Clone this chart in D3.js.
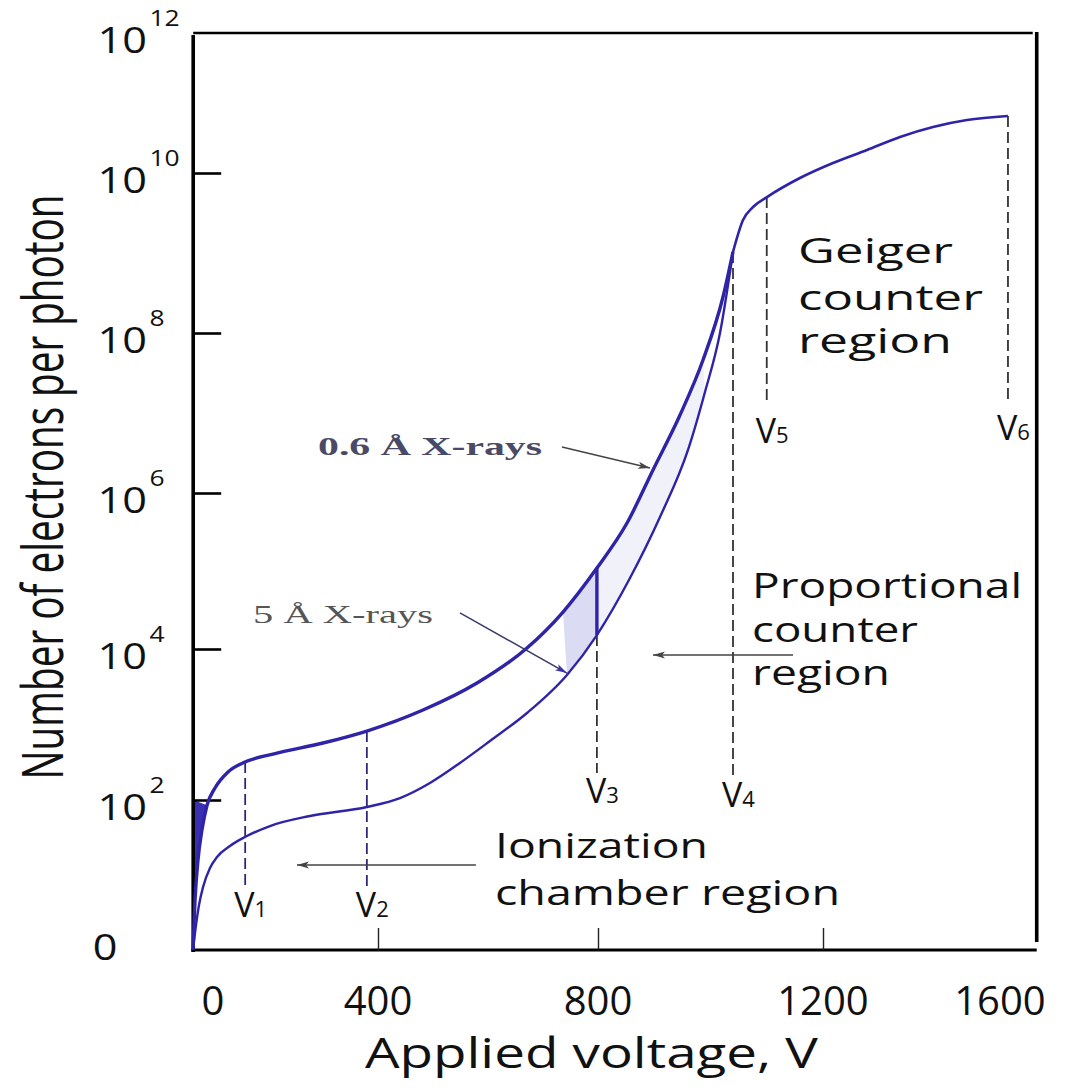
<!DOCTYPE html>
<html><head><meta charset="utf-8">
<script src="https://cdn.jsdelivr.net/npm/d3@7"></script>
<style>body{margin:0;background:#fff} svg{display:block;background:#fff}</style>
</head><body>
<svg id="chart" width="1074" height="1088"></svg>
<script>
// ---- data (applied voltage V, electrons per photon) ----
const voltsUpper = [-48.5,-43.6,-36.4,-26.7,-14.5,4.8,36.4,77.6,145.4,266.7,373,481.8,580,670.9,736.4,798,851.6,897.8,945.8,986.7,1022.2,1040,1057.8,1075.6,1100.4,1159,1222.6,1299.4,1374,1448.6,1525.4,1618];
const countsUpper = [1,4.6,15.8,40,85,144,235,318,406,569,820,1556,3548,1.03e4,2.98e4,1.09e5,4.12e5,1.94e6,9.44e6,4.6e7,2.82e8,1.03e9,2.58e9,3.76e9,5.0e9,8.66e9,1.39e10,2.13e10,3.27e10,4.54e10,5.71e10,6.52e10];
const voltsLower = [-48.5,-41.2,-33.9,-24.2,-7.3,9.7,41.2,77.6,138.2,235.2,373,440,494.5,549,603.6,670.9,743.6,798,856.9,910.2,960,990.2,1016.9,1040];
const countsLower = [1,2.15,3.98,6.9,12.4,17.4,24.4,32.1,45,61.2,80.7,106,168,309,604,1419,4529,1.51e4,8.13e4,4.92e5,3.45e6,1.83e7,1e8,1.03e9];
const xTickValues = [0,400,800,1200,1600];
const xTickLabels = ["0","400","800","1200","1600"];
const yTickValues = [1,1e2,1e4,1e6,1e8,1e10,1e12];
const yTickExponents = ["","2","4","6","8","10","12"];
const markerNames = ["1","2","3","4","5","6"];
const markerVolts = [78,373,798,1040,1100,1618];
const markerTops = [318,820,1.09e5,1.03e9,5.0e9,6.52e10];
const markerSolidTo = [null,null,1.51e4,null,null,null];
const markerBottoms = [6.3,6.3,228,202,1.33e7,1.45e7];
const arrowFrom = [[734.5,3.76e6],[549,2.9e4],[1146.7,8.3e3],[578,13.6]];
const arrowTo = [[892.5,2.05e6],[743.6,4.8e3],[897.8,8.3e3],[203.6,13.6]];
const xExtent = [-48, 1683];
const yExtent = [1, 1e12];

const svg = d3.select("#chart");
const x = d3.scaleLinear().domain(xTickValues).range([213,378,598,823,1000]);
const y = d3.scaleLog().domain(yTickValues).range([950,800,649,493,333,173,33]);
const X0 = x(xExtent[0]), X1 = x(xExtent[1]), Y0 = y(yExtent[0]), Y1 = y(yExtent[1]);

const BLUE = "#2f24a8";
const FONT = "'Open Sans', 'Noto Sans', sans-serif";

const defs = svg.append("defs");
function marker(id, color){
  defs.append("marker").attr("id", id).attr("viewBox","0 0 12 10").attr("refX",12).attr("refY",5)
    .attr("markerWidth",16).attr("markerHeight",10).attr("markerUnits","userSpaceOnUse").attr("orient","auto")
    .append("path").attr("d","M0,1.5 L12,5 L0,8.5 L3,5 Z").attr("fill", color);
}
marker("ahGray","#444");
marker("ahBlue","#3a30b0");

const lineGen = d3.line().x(d=>x(d[0])).y(d=>y(d[1]));
const upperPts = voltsUpper.map((v,i)=>[v,countsUpper[i]]);
const lowerPts = voltsLower.map((v,i)=>[v,countsLower[i]]);

// shading between the two curves left of V3 and fainter above it
const shadeUpper = upperPts.filter(d=>d[0]>=736 && d[0]<=798);
const shadeLower = lowerPts.filter(d=>d[0]>=743 && d[0]<=798).reverse();
svg.append("path").attr("d", lineGen(shadeUpper.concat(shadeLower))+"Z")
  .attr("fill","#cfcff0").attr("opacity",0.75);
const shadeUpper2 = upperPts.filter(d=>d[0]>=798 && d[0]<=986.7);
const shadeLower2 = lowerPts.filter(d=>d[0]>=798 && d[0]<=990.2).reverse();
svg.append("path").attr("d", lineGen(shadeUpper2.concat(shadeLower2))+"Z")
  .attr("fill","#eceef8").attr("opacity",0.8);

// dark wedge at origin
const wedge = upperPts.filter(d=>d[1]<=100);
wedge.push([xExtent[0],100]);
svg.append("path").attr("d", lineGen(wedge)+"Z").attr("fill","#3a2fb0");

// frame
const frame = svg.append("g").attr("stroke","#000").attr("fill","none");
frame.append("line").attr("x1",X0).attr("x2",X0).attr("y1",Y1+2).attr("y2",Y0+2).attr("stroke-width",3.6);
frame.append("line").attr("x1",X0-2).attr("x2",X1).attr("y1",Y0).attr("y2",Y0).attr("stroke-width",3);
frame.append("line").attr("x1",X0).attr("x2",X1-4).attr("y1",Y1).attr("y2",Y1).attr("stroke-width",2.6);
frame.append("line").attr("x1",X1).attr("x2",X1).attr("y1",Y1-1).attr("y2",Y0-8).attr("stroke-width",3.6);

// axes ticks (inward)
const yAxis = svg.append("g").attr("transform",`translate(${X0},0)`)
  .call(d3.axisLeft(y).tickValues(yTickValues.slice(1,-1)).tickSize(-28).tickFormat(""));
yAxis.select(".domain").remove();
yAxis.selectAll(".tick line").attr("stroke","#000").attr("stroke-width",2.6);
const xAxis = svg.append("g").attr("transform",`translate(0,${Y0})`)
  .call(d3.axisBottom(x).tickValues([400,800,1200]).tickSize(-22).tickFormat(""));
xAxis.select(".domain").remove();
xAxis.selectAll(".tick line").attr("stroke","#222").attr("stroke-width",1.4);

// y tick labels
yTickValues.forEach((v,i)=>{
  if(i===0){
    svg.append("text").attr("x",105).attr("y",y(v)+10).attr("text-anchor","middle")
      .attr("font-family",FONT).attr("font-size",36).attr("fill","#111")
      .attr("transform",`translate(105,0) scale(1.2,1) translate(-105,0)`).text("0");
    return;
  }
  const g = svg.append("g").attr("transform",`translate(147,${y(v)+20}) scale(1.2,1)`);
  g.append("text").attr("text-anchor","end").attr("font-family",FONT).attr("font-size",36).attr("fill","#111").text("10");
  g.append("text").attr("x",2).attr("y",-27).attr("font-family",FONT).attr("font-size",22).attr("fill","#111").text(yTickExponents[i]);
});

// x tick labels
xTickValues.forEach((v,i)=>{
  svg.append("text").attr("x",x(v)).attr("y",1015).attr("text-anchor","middle")
    .attr("font-family",FONT).attr("font-size",40).attr("fill","#111").text(xTickLabels[i]);
});

// axis titles
svg.append("text").attr("x",365).attr("y",1068).attr("font-family",FONT).attr("font-size",42).attr("fill","#111")
  .attr("textLength",453).attr("lengthAdjust","spacingAndGlyphs").text("Applied voltage, V");
svg.append("text").attr("transform","translate(63,487) rotate(-90) scale(1,1.22)").attr("text-anchor","middle")
  .attr("font-family",FONT).attr("font-size",46).attr("fill","#111")
  .attr("textLength",585).attr("lengthAdjust","spacingAndGlyphs").text("Number of electrons per photon");

// marker lines V1..V6
markerVolts.forEach((v,i)=>{
  const dashColor = i<2 ? "#2c2a78" : "#333";
  let start = markerTops[i];
  if(markerSolidTo[i]!==null){
    svg.append("line").attr("x1",x(v)).attr("x2",x(v)).attr("y1",y(markerTops[i])).attr("y2",y(markerSolidTo[i]))
      .attr("stroke",BLUE).attr("stroke-width",3.4);
    start = markerSolidTo[i];
  }
  svg.append("line").attr("x1",x(v)).attr("x2",x(v)).attr("y1",y(start)).attr("y2",y(markerBottoms[i]))
    .attr("stroke",dashColor).attr("stroke-width",1.8).attr("stroke-dasharray","11,5");
  const off = i<2 ? 27 : (i<4 ? 30 : 40);
  const t = svg.append("text").attr("x",x(v)-11).attr("y",y(markerBottoms[i])+off)
    .attr("font-family",FONT).attr("font-size",34).attr("fill","#111");
  t.append("tspan").text("V");
  t.append("tspan").attr("font-size",22).text(markerNames[i]);
});

// curves
const curveGen = d3.line().x(d=>x(d[0])).y(d=>y(d[1])).curve(d3.curveMonotoneX);
svg.append("path").attr("d",curveGen(lowerPts)).attr("fill","none").attr("stroke",BLUE).attr("stroke-width",2.4);
svg.append("path").attr("d",curveGen(upperPts.filter(d=>d[0]<=1040))).attr("fill","none").attr("stroke",BLUE).attr("stroke-width",3.4);
svg.append("path").attr("d",curveGen(upperPts.filter(d=>d[0]>=1040))).attr("fill","none").attr("stroke",BLUE).attr("stroke-width",2.6);

// arrows
arrowFrom.forEach((f,i)=>{
  svg.append("line").attr("x1",x(f[0])).attr("y1",y(f[1])).attr("x2",x(arrowTo[i][0])).attr("y2",y(arrowTo[i][1]))
    .attr("stroke", i===1 ? "#3b3a6a" : "#444").attr("stroke-width",1.5)
    .attr("marker-end", i===1 ? "url(#ahBlue)" : "url(#ahGray)");
});

// annotations
const SERIF = "'Liberation Serif', 'DejaVu Serif', serif";
svg.append("text").attr("x",318).attr("y",455).attr("font-family",SERIF).attr("font-size",26).attr("font-weight","bold")
  .attr("fill","#4a4a66").attr("textLength",224).attr("lengthAdjust","spacingAndGlyphs").text("0.6 Å X-rays");
svg.append("text").attr("x",253).attr("y",623).attr("font-family",SERIF).attr("font-size",26)
  .attr("fill","#555").attr("textLength",180).attr("lengthAdjust","spacingAndGlyphs").text("5 Å X-rays");

function block(lines){
  lines.forEach(l=>{
    svg.append("text").attr("x",l[0]).attr("y",l[1]).attr("font-family",FONT).attr("font-size",34).attr("fill","#111")
      .attr("textLength",l[2]).attr("lengthAdjust","spacingAndGlyphs").text(l[3]);
  });
}
block([[798,263,155,"Geiger"],[798,310,185,"counter"],[798,353,154,"region"]]);
block([[752,598,270,"Proportional"],[752,642,166,"counter"],[752,685,138,"region"]]);
block([[495,858,213,"Ionization"],[495,905,345,"chamber region"]]);
</script>
</body></html>
